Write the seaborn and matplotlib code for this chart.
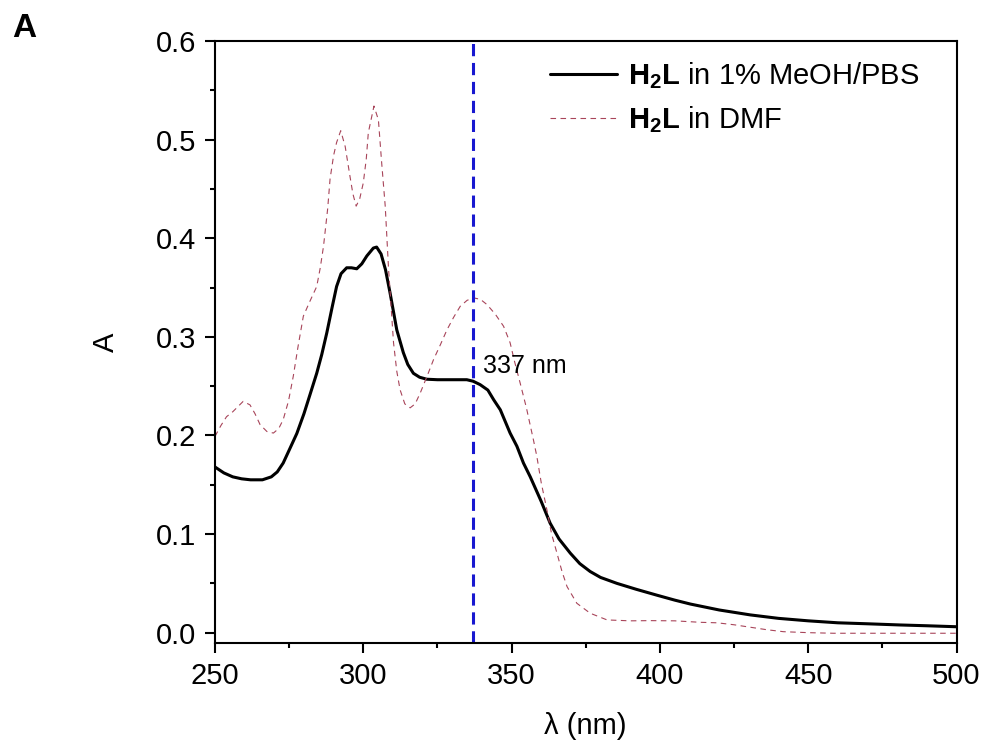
"""
UV-vis spectra of H2L in 1% MeOH/PBS and in DMF
"""

import numpy as np
import pandas as pd
import matplotlib
matplotlib.use("Agg")
import matplotlib.pyplot as plt
from matplotlib.ticker import MultipleLocator, FormatStrFormatter
import seaborn as sns

# wavelength (nm) and absorbance
wl_pbs = [250, 253, 256, 259, 262, 266, 269, 271, 273, 275, 277.6, 280, 282, 284.3,
          286, 287.7, 289.5, 291, 292.5, 294.4, 296, 297.8, 299.5, 301.2, 303.4, 304.5,
          306, 307.5, 309, 311.3, 313.5, 315, 316.9, 319, 321.4, 325, 330, 334.9, 337,
          339.4, 342, 344, 346.2, 349.5, 351.8, 354, 356.3, 360, 363, 366, 369.8, 373,
          376.5, 380, 385.5, 392, 399, 405, 410.3, 420, 430.5, 440, 450, 460, 470, 481,
          490, 500]
abs_pbs = [0.168, 0.162, 0.158, 0.156, 0.155, 0.155, 0.158, 0.163, 0.172, 0.185, 0.202,
           0.222, 0.241, 0.263, 0.282, 0.304, 0.330, 0.351, 0.364, 0.370, 0.370, 0.369,
           0.374, 0.382, 0.390, 0.391, 0.384, 0.368, 0.345, 0.307, 0.284, 0.272, 0.263,
           0.259, 0.257, 0.2565, 0.2565, 0.2565, 0.255, 0.2515, 0.246, 0.236, 0.226,
           0.2024, 0.189, 0.172, 0.158, 0.133, 0.111, 0.095, 0.0806, 0.070, 0.062, 0.056,
           0.050, 0.044, 0.038, 0.033, 0.029, 0.023, 0.018, 0.0145, 0.012, 0.010, 0.009,
           0.0078, 0.007, 0.006]

wl_dmf = [250, 252, 253.9, 256, 258, 259.5, 261.8, 263.5, 265.2, 267.5, 269.7, 271.5,
          273, 274.8, 276.4, 278, 279.8, 282, 284.3, 285.5, 286.6, 288, 288.8, 290, 291,
          292.4, 293.9, 295.5, 296.5, 297.6, 298.8, 300, 301, 301.7, 303.6, 305.1, 306.2,
          307.4, 308.5, 310.2, 311.3, 312.4, 314, 315.8, 317.5, 319.2, 321.5, 323.7, 326,
          328.2, 330.5, 332.7, 335, 337.2, 339.5, 341.7, 344.5, 347.3, 349.5, 351, 352.9,
          355, 357.4, 358.5, 360, 361.9, 363.5, 365.3, 367, 368.7, 372, 376.5, 382.2, 390,
          396.8, 405, 413.6, 419.3, 425, 430.5, 436, 441.6, 450, 458.5, 480, 500]
abs_dmf = [0.199, 0.210, 0.219, 0.224, 0.230, 0.2345, 0.231, 0.222, 0.211, 0.204, 0.2024,
           0.207, 0.216, 0.235, 0.260, 0.290, 0.321, 0.336, 0.351, 0.370, 0.392, 0.430,
           0.460, 0.484, 0.497, 0.509, 0.493, 0.463, 0.445, 0.4325, 0.440, 0.456, 0.480,
           0.507, 0.534, 0.520, 0.4765, 0.4325, 0.370, 0.294, 0.265, 0.2464, 0.232, 0.228,
           0.232, 0.243, 0.260, 0.277, 0.292, 0.307, 0.320, 0.331, 0.337, 0.3395, 0.338,
           0.3327, 0.323, 0.3107, 0.294, 0.275, 0.253, 0.228, 0.195, 0.179, 0.152, 0.1246,
           0.100, 0.0806, 0.062, 0.0467, 0.0298, 0.0197, 0.0129, 0.012, 0.0122, 0.012,
           0.0105, 0.0100, 0.008, 0.0055, 0.003, 0.001, 0.000, -0.0006, -0.0006, -0.0006]

labels = [r"$\mathbf{H_2L}$ in 1% MeOH/PBS", r"$\mathbf{H_2L}$ in DMF"]
peak_nm = 337

sns.set_style("ticks")
plt.rcParams["font.family"] = ["Liberation Sans", "DejaVu Sans"]
plt.rcParams["mathtext.fontset"] = "custom"
plt.rcParams["mathtext.rm"] = "Liberation Sans"
plt.rcParams["mathtext.bf"] = "Liberation Sans:bold"
plt.rcParams["text.color"] = "black"
plt.rcParams["axes.labelcolor"] = "black"
plt.rcParams["axes.edgecolor"] = "black"
plt.rcParams["xtick.color"] = "black"
plt.rcParams["ytick.color"] = "black"

df_pbs = pd.DataFrame({"wl": wl_pbs, "A": abs_pbs})
df_dmf = pd.DataFrame({"wl": wl_dmf, "A": abs_dmf})

fig = plt.figure(figsize=(9.87, 7.49), dpi=100)
ax = fig.add_axes([0.2178, 0.1415, 0.7513, 0.8038])

sns.lineplot(data=df_pbs, x="wl", y="A", ax=ax, color="black", lw=2.2,
             label=labels[0], sort=False)
sns.lineplot(data=df_dmf, x="wl", y="A", ax=ax, color="#a8455a", lw=0.8,
             label=labels[1], sort=False)
ax.lines[1].set_dashes((5, 4))
ax.axvline(peak_nm, color="#1818d0", lw=2.2, dashes=(4, 2.2))
ax.text(peak_nm + 3.3, 0.27, f"{peak_nm} nm", fontsize=18, va="center", ha="left")

ax.set_xlim(250, 500)
ax.set_ylim(-0.0105, 0.6)
ax.xaxis.set_major_locator(MultipleLocator(50))
ax.xaxis.set_minor_locator(MultipleLocator(25))
ax.yaxis.set_major_locator(MultipleLocator(0.1))
ax.yaxis.set_minor_locator(MultipleLocator(0.05))
ax.yaxis.set_major_formatter(FormatStrFormatter("%.1f"))
ax.tick_params(which="major", length=7.5, width=1.5, labelsize=21, pad=6)
ax.tick_params(which="minor", length=3.5, width=1.5)
for s in ax.spines.values():
    s.set_linewidth(1.5)
    s.set_visible(True)

ax.set_xlabel("λ (nm)", fontsize=21, labelpad=16)
ax.set_ylabel("A", fontsize=21, labelpad=26)

leg = ax.legend(loc="upper right", frameon=False, fontsize=21, handlelength=2.3,
                handletextpad=0.35, labelspacing=0.45, borderaxespad=0.25,
                bbox_to_anchor=(0.975, 1.0))

fig.text(0.012, 0.962, "A", fontsize=24, fontweight="bold", va="center", ha="left")

fig.savefig("out.png", dpi=100)
plt.close(fig)
